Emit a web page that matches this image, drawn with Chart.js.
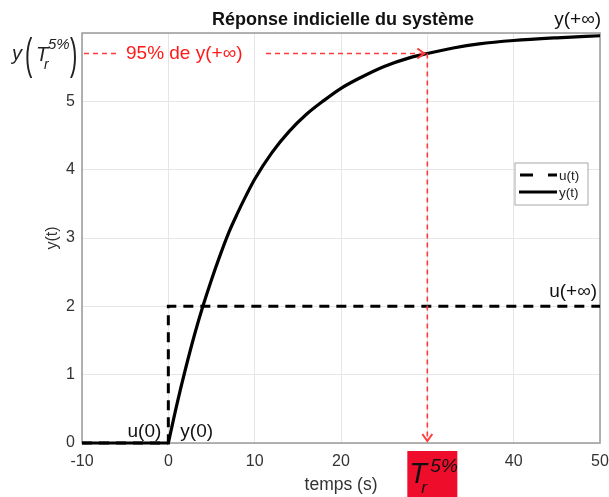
<!DOCTYPE html>
<html>
<head>
<meta charset="utf-8">
<script src="https://cdn.jsdelivr.net/npm/chart.js@4/dist/chart.umd.min.js"></script>
<style>
  html, body { margin: 0; padding: 0; background: #fff; }
  #wrap { width: 609px; height: 497px; position: relative; }
</style>
</head>
<body>
<div id="wrap"><canvas id="reponse"></canvas></div>
<script>
// Données
const tempsY = [-10, 0, 1, 2, 3, 4, 5, 6, 7, 8, 9, 10, 12, 14, 16, 18, 20, 22, 25, 28, 30, 33, 36, 40, 45, 50];
const valeursY = [0, 0, 0.57, 1.09, 1.57, 2.00, 2.39, 2.75, 3.08, 3.36, 3.62, 3.86, 4.25, 4.56, 4.81, 5.01, 5.19, 5.33, 5.51, 5.64, 5.70, 5.78, 5.84, 5.89, 5.93, 5.96];
const tempsU = [-10, 0, 0, 50];
const valeursU = [0, 0, 2, 2];
const legendes = ['u(t)', 'y(t)'];

const tMin = -10, tMax = 50, yMax = 6;
const Tr = 30;          // temps de réponse à 5%
const yInfini = 6;      // valeur finale
const uInfini = 2;

const FONT = '"Liberation Sans", Arial, sans-serif';

const pointsY = tempsY.map((t, i) => ({ x: t, y: valeursY[i] }));

function fleche(ctx, x, y, dir) {
  ctx.beginPath();
  if (dir === 'right') {
    ctx.moveTo(x - 7, y - 5); ctx.lineTo(x, y); ctx.lineTo(x - 7, y + 5);
  } else {
    ctx.moveTo(x - 5, y - 7); ctx.lineTo(x, y); ctx.lineTo(x + 5, y - 7);
  }
  ctx.stroke();
}

// Annotations façon MATLAB (textes, flèches rouges, cadre, légende)
const annotations = {
  id: 'annotations',
  beforeDatasetsDraw(chart) {
    // cadre sous les courbes
    const { ctx, chartArea: a } = chart;
    ctx.save();
    ctx.strokeStyle = '#9a9a9a';
    ctx.lineWidth = 1.5;
    ctx.strokeRect(a.left, a.top, a.right - a.left, a.bottom - a.top);
    ctx.restore();
  },
  afterDraw(chart) {
    const { ctx, chartArea: a, scales: { x, y } } = chart;
    ctx.save();

    // titre
    ctx.fillStyle = '#111';
    ctx.font = 'bold 18px ' + FONT;
    ctx.textAlign = 'center';
    ctx.textBaseline = 'alphabetic';
    ctx.fillText('Réponse indicielle du système', 343, 25);

    // titres des axes
    ctx.fillStyle = '#333';
    ctx.font = '17.5px ' + FONT;
    ctx.fillText('temps (s)', 341, 490);
    ctx.save();
    ctx.translate(57, 238);
    ctx.rotate(-Math.PI / 2);
    ctx.font = '16px ' + FONT;
    ctx.fillText('y(t)', 0, 0);
    ctx.restore();

    // repères 95% et Tr
    const px = x.getPixelForValue(Tr);
    const py = y.getPixelForValue(0.95 * yInfini);
    ctx.strokeStyle = '#ff3b3b';
    ctx.lineWidth = 1.6;
    ctx.setLineDash([5, 4]);
    ctx.beginPath();
    ctx.moveTo(a.left + 2, py); ctx.lineTo(118, py);
    ctx.moveTo(266, py); ctx.lineTo(px - 3, py);
    ctx.moveTo(px, py); ctx.lineTo(px, a.bottom - 2);
    ctx.stroke();
    ctx.setLineDash([]);
    ctx.lineWidth = 2;
    fleche(ctx, px - 3, py, 'right');
    fleche(ctx, px, a.bottom - 2, 'down');

    ctx.fillStyle = '#ff1a1a';
    ctx.font = '19px ' + FONT;
    ctx.textAlign = 'left';
    ctx.textBaseline = 'middle';
    ctx.fillText('95% de y(+∞)', 126, py);

    // étiquette rouge Tr
    ctx.fillStyle = '#ef0d2c';
    ctx.fillRect(px - 20, 451, 50, 46);
    ctx.fillStyle = '#111';
    ctx.textBaseline = 'alphabetic';
    ctx.font = 'italic 29px ' + FONT;
    ctx.fillText('T', px - 18, 483);
    ctx.font = 'italic 19px ' + FONT;
    ctx.fillText('5%', px + 3, 472);
    ctx.font = 'italic 17px ' + FONT;
    ctx.fillText('r', px - 6, 493);

    // y(Tr) à gauche
    ctx.fillStyle = '#222';
    ctx.font = 'italic 20px ' + FONT;
    ctx.fillText('y', 12, py + 6);
    ctx.font = '44px ' + FONT;
    ctx.save();
    ctx.scale(0.5, 1);
    ctx.fillText('(', 25 / 0.5, py + 15);
    ctx.fillText(')', 70 / 0.5, py + 15);
    ctx.restore();
    ctx.font = 'italic 20px ' + FONT;
    ctx.fillText('T', 36, py + 7);
    ctx.font = 'italic 15px ' + FONT;
    ctx.fillText('5%', 48, py - 5);
    ctx.font = 'italic 14px ' + FONT;
    ctx.fillText('r', 44, py + 15);

    // étiquettes u(0), y(0), u(+∞), y(+∞)
    ctx.fillStyle = '#111';
    ctx.font = '19px ' + FONT;
    ctx.textAlign = 'right';
    ctx.fillText('u(0)', x.getPixelForValue(0) - 7, 437);
    ctx.textAlign = 'left';
    ctx.fillText('y(0)', x.getPixelForValue(0) + 12, 437);
    ctx.textAlign = 'right';
    ctx.fillText('u(+∞)', 597, y.getPixelForValue(uInfini) - 9);
    ctx.fillText('y(+∞)', 601, 25);

    // légende
    const lx = 515, ly = 163;
    ctx.fillStyle = '#fff';
    ctx.fillRect(lx, ly, 73, 42);
    ctx.strokeStyle = '#a8a8a8';
    ctx.lineWidth = 1;
    ctx.strokeRect(lx, ly, 73, 42);
    ctx.strokeStyle = '#000';
    ctx.lineWidth = 3;
    ctx.setLineDash([13, 15]);
    ctx.beginPath(); ctx.moveTo(lx + 5, ly + 12); ctx.lineTo(lx + 42, ly + 12); ctx.stroke();
    ctx.setLineDash([]);
    ctx.beginPath(); ctx.moveTo(lx + 4, ly + 29); ctx.lineTo(lx + 42, ly + 29); ctx.stroke();
    ctx.fillStyle = '#222';
    ctx.font = '13.5px ' + FONT;
    ctx.textAlign = 'left';
    ctx.textBaseline = 'middle';
    ctx.fillText(legendes[0], lx + 44, ly + 13);
    ctx.fillText(legendes[1], lx + 44, ly + 30);

    ctx.restore();
  }
};

new Chart(document.getElementById('reponse'), {
  type: 'line',
  data: {
    datasets: [
      {
        label: legendes[0],
        data: tempsU.map((t, i) => ({ x: t, y: valeursU[i] })),
        borderColor: '#000',
        borderWidth: 3,
        borderDash: [10, 7],
        pointRadius: 0,
        tension: 0,
        clip: 4
      },
      {
        // partie nulle avant l'échelon
        label: legendes[1],
        data: pointsY.filter(p => p.x <= 0),
        borderColor: '#000',
        borderWidth: 3.2,
        pointRadius: 0,
        tension: 0,
        clip: 4
      },
      {
        label: legendes[1],
        data: pointsY.filter(p => p.x >= 0),
        borderColor: '#000',
        borderWidth: 3.2,
        pointRadius: 0,
        cubicInterpolationMode: 'monotone',
        clip: 4
      }
    ]
  },
  options: {
    responsive: true,
    maintainAspectRatio: false,
    animation: false,
    layout: { padding: { top: 33, right: 9, left: 0, bottom: 0 } },
    plugins: {
      legend: { display: false },
      title: { display: false },
      tooltip: { enabled: false }
    },
    scales: {
      x: {
        type: 'linear',
        min: tMin,
        max: tMax,
        ticks: {
          stepSize: 10,
          color: '#333',
          font: { family: FONT, size: 16 },
          padding: 9,
          maxRotation: 0
        },
        grid: { color: '#e6e6e6', drawTicks: false },
        border: { display: false },
        afterFit(scale) {
          scale.height = 54;
          scale.paddingLeft = 0;
          scale.paddingRight = 0;
        }
      },
      y: {
        min: 0,
        max: yMax,
        ticks: {
          stepSize: 1,
          color: '#333',
          font: { family: FONT, size: 16 },
          padding: 7,
          callback: v => (v === yMax ? '' : v)
        },
        grid: { color: '#e6e6e6', drawTicks: false },
        border: { display: false },
        afterFit(scale) {
          scale.width = 82;
          scale.paddingTop = 0;
          scale.paddingBottom = 0;
        }
      }
    }
  },
  plugins: [annotations]
});
</script>
</body>
</html>
